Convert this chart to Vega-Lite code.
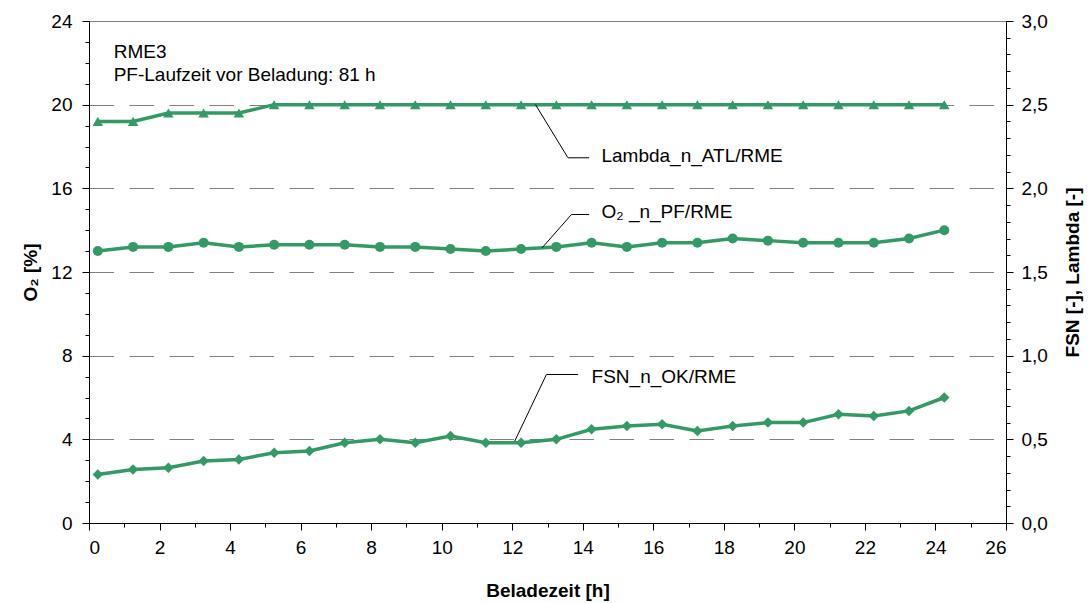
{
  "$schema": "https://vega.github.io/schema/vega-lite/v6.json",
  "width": 917,
  "height": 502,
  "autosize": "none",
  "padding": {"left": 89, "top": 21, "right": 86, "bottom": 80},
  "background": "white",
  "datasets": {
    "series": [
      {"x": 0.25, "o2": 13.0, "lambda": 2.40, "fsn": 0.29},
      {"x": 1.25, "o2": 13.2, "lambda": 2.40, "fsn": 0.32},
      {"x": 2.25, "o2": 13.2, "lambda": 2.45, "fsn": 0.33},
      {"x": 3.25, "o2": 13.4, "lambda": 2.45, "fsn": 0.37},
      {"x": 4.25, "o2": 13.2, "lambda": 2.45, "fsn": 0.38},
      {"x": 5.25, "o2": 13.3, "lambda": 2.50, "fsn": 0.42},
      {"x": 6.25, "o2": 13.3, "lambda": 2.50, "fsn": 0.43},
      {"x": 7.25, "o2": 13.3, "lambda": 2.50, "fsn": 0.48},
      {"x": 8.25, "o2": 13.2, "lambda": 2.50, "fsn": 0.50},
      {"x": 9.25, "o2": 13.2, "lambda": 2.50, "fsn": 0.48},
      {"x": 10.25, "o2": 13.1, "lambda": 2.50, "fsn": 0.52},
      {"x": 11.25, "o2": 13.0, "lambda": 2.50, "fsn": 0.48},
      {"x": 12.25, "o2": 13.1, "lambda": 2.50, "fsn": 0.48},
      {"x": 13.25, "o2": 13.2, "lambda": 2.50, "fsn": 0.50},
      {"x": 14.25, "o2": 13.4, "lambda": 2.50, "fsn": 0.56},
      {"x": 15.25, "o2": 13.2, "lambda": 2.50, "fsn": 0.58},
      {"x": 16.25, "o2": 13.4, "lambda": 2.50, "fsn": 0.59},
      {"x": 17.25, "o2": 13.4, "lambda": 2.50, "fsn": 0.55},
      {"x": 18.25, "o2": 13.6, "lambda": 2.50, "fsn": 0.58},
      {"x": 19.25, "o2": 13.5, "lambda": 2.50, "fsn": 0.60},
      {"x": 20.25, "o2": 13.4, "lambda": 2.50, "fsn": 0.60},
      {"x": 21.25, "o2": 13.4, "lambda": 2.50, "fsn": 0.65},
      {"x": 22.25, "o2": 13.4, "lambda": 2.50, "fsn": 0.64},
      {"x": 23.25, "o2": 13.6, "lambda": 2.50, "fsn": 0.67},
      {"x": 24.25, "o2": 14.0, "lambda": 2.50, "fsn": 0.75}
    ],
    "leaders": [
      {"g": "lambda", "o": 1, "x": 12.66, "y": 20.0},
      {"g": "lambda", "o": 2, "x": 13.58, "y": 17.46},
      {"g": "lambda", "o": 3, "x": 14.18, "y": 17.46},
      {"g": "o2", "o": 1, "x": 12.85, "y": 13.16},
      {"g": "o2", "o": 2, "x": 13.68, "y": 14.75},
      {"g": "o2", "o": 3, "x": 14.18, "y": 14.75},
      {"g": "fsn", "o": 1, "x": 12.07, "y": 3.91},
      {"g": "fsn", "o": 2, "x": 12.97, "y": 7.10},
      {"g": "fsn", "o": 3, "x": 13.87, "y": 7.10}
    ],
    "labels": [
      {"label": "Lambda_n_ATL/RME", "x": 14.53, "y": 17.27},
      {"label": "O₂ _n_PF/RME", "x": 14.53, "y": 14.56},
      {"label": "FSN_n_OK/RME", "x": 14.25, "y": 6.68},
      {"label": "RME3", "x": 0.70, "y": 22.22},
      {"label": "PF-Laufzeit vor Beladung: 81 h", "x": 0.70, "y": 21.13}
    ]
  },
  "resolve": {
    "scale": {"x": "shared", "y": "independent"},
    "axis": {"x": "independent", "y": "independent"}
  },
  "layer": [
    {
      "data": {"name": "series"},
      "mark": {"type": "point", "opacity": 0},
      "encoding": {
        "x": {"field": "x", "type": "quantitative",
          "scale": {"domain": [0, 26], "nice": false, "zero": false},
          "axis": {"orient": "bottom", "values": [0,1,2,3,4,5,6,7,8,9,10,11,12,13,14,15,16,17,18,19,20,21,22,23,24,25,26],
            "tickSize": 4, "labels": false, "domain": false, "grid": false, "title": null}},
        "y": {"field": "o2", "type": "quantitative",
          "scale": {"domain": [0, 24], "nice": false, "zero": false},
          "axis": {"orient": "left", "values": [0,1,2,3,4,5,6,7,8,9,10,11,12,13,14,15,16,17,18,19,20,21,22,23,24],
            "tickSize": 4, "labels": false, "domain": false, "grid": false, "title": null}}
      }
    },
    {
      "data": {"name": "series"},
      "mark": {"type": "line", "color": "#339966", "strokeWidth": 3.5,
        "point": {"shape": "circle", "size": 100, "filled": true, "color": "#339966", "opacity": 1}},
      "encoding": {
        "x": {"field": "x", "type": "quantitative",
          "scale": {"domain": [0, 26], "nice": false, "zero": false},
          "axis": {"orient": "bottom", "values": [0,2,4,6,8,10,12,14,16,18,20,22,24,26],
            "tickSize": 7, "labelPadding": 8, "grid": false, "title": "Beladezeit [h]", "titlePadding": 24}},
        "y": {"field": "o2", "type": "quantitative",
          "scale": {"domain": [0, 24], "nice": false, "zero": false},
          "axis": {"orient": "left", "values": [0,4,8,12,16,20,24],
            "tickSize": 7, "labelPadding": 10, "grid": true, "gridDash": [24.5, 15.5], "gridColor": "#808080", "gridWidth": 1,
            "title": "O₂ [%]", "titlePadding": 10}}
      }
    },
    {
      "data": {"name": "series"},
      "mark": {"type": "line", "color": "#339966", "strokeWidth": 3.5,
        "point": {"shape": "triangle-up", "size": 110, "filled": true, "color": "#339966", "opacity": 1}},
      "encoding": {
        "x": {"field": "x", "type": "quantitative",
          "scale": {"domain": [0, 26], "nice": false, "zero": false}, "axis": null},
        "y": {"field": "lambda", "type": "quantitative",
          "scale": {"domain": [0, 3], "nice": false, "zero": false},
          "axis": {"orient": "right", "values": [0, 0.5, 1, 1.5, 2, 2.5, 3],
            "labelExpr": "replace(format(datum.value, '.1f'), '.', ',')",
            "tickSize": 7, "labelPadding": 8, "grid": false,
            "title": "FSN [-], Lambda [-]", "titleAngle": 270, "titleBaseline": "top", "titlePadding": 16}}
      }
    },
    {
      "data": {"name": "series"},
      "mark": {"type": "line", "color": "#339966", "strokeWidth": 3.5,
        "point": {"shape": "diamond", "size": 110, "filled": true, "color": "#339966", "opacity": 1}},
      "encoding": {
        "x": {"field": "x", "type": "quantitative",
          "scale": {"domain": [0, 26], "nice": false, "zero": false}, "axis": null},
        "y": {"field": "fsn", "type": "quantitative",
          "scale": {"domain": [0, 3], "nice": false, "zero": false},
          "axis": {"orient": "right", "values": [0,0.1,0.2,0.3,0.4,0.5,0.6,0.7,0.8,0.9,1,1.1,1.2,1.3,1.4,1.5,1.6,1.7,1.8,1.9,2,2.1,2.2,2.3,2.4,2.5,2.6,2.7,2.8,2.9,3],
            "tickSize": 4, "labels": false, "domain": false, "grid": false, "title": null}}
      }
    },
    {
      "data": {"name": "leaders"},
      "mark": {"type": "line", "color": "black", "strokeWidth": 1},
      "encoding": {
        "x": {"field": "x", "type": "quantitative",
          "scale": {"domain": [0, 26], "nice": false, "zero": false}, "axis": null},
        "y": {"field": "y", "type": "quantitative",
          "scale": {"domain": [0, 24], "nice": false, "zero": false}, "axis": null},
        "detail": {"field": "g"},
        "order": {"field": "o"}
      }
    },
    {
      "data": {"name": "labels"},
      "mark": {"type": "text", "align": "left", "baseline": "alphabetic", "fontSize": 19, "font": "Liberation Sans", "color": "black"},
      "encoding": {
        "x": {"field": "x", "type": "quantitative",
          "scale": {"domain": [0, 26], "nice": false, "zero": false}, "axis": null},
        "y": {"field": "y", "type": "quantitative",
          "scale": {"domain": [0, 24], "nice": false, "zero": false}, "axis": null},
        "text": {"field": "label"}
      }
    }
  ],
  "config": {
    "view": {"stroke": "#808080", "strokeWidth": 1},
    "font": "Liberation Sans",
    "axis": {
      "domainColor": "black", "tickColor": "black", "labelColor": "black", "titleColor": "black",
      "labelFontSize": 19, "titleFontSize": 19, "titleFontWeight": "bold",
      "labelFont": "Liberation Sans", "titleFont": "Liberation Sans", "domainWidth": 1, "tickWidth": 1
    }
  }
}
